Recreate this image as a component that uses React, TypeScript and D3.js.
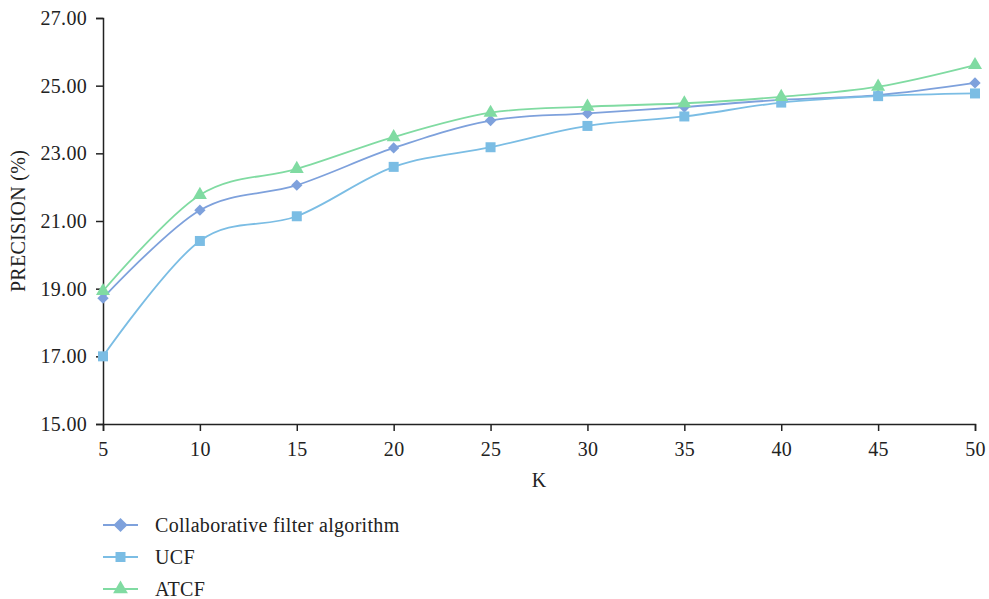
import React, { useEffect, useRef } from "react";
import * as d3 from "d3";

// chart data
const kValues = [5, 10, 15, 20, 25, 30, 35, 40, 45, 50];
const collabValues = [18.72, 21.32, 22.06, 23.16, 23.97, 24.18, 24.37, 24.58, 24.72, 25.08];
const ucfValues = [17.0, 20.41, 21.14, 22.6, 23.18, 23.81, 24.09, 24.5, 24.69, 24.77];
const atcfValues = [18.93, 21.77, 22.54, 23.48, 24.2, 24.38, 24.48, 24.67, 24.97, 25.61];
const seriesNames = ["Collaborative filter algorithm", "UCF", "ATCF"];
const yTicks = [15, 17, 19, 21, 23, 25, 27];

const colors = ["#7ea1dc", "#7bbde4", "#80dba2"];
const shapes = [d3.symbolSquare, d3.symbolSquare, d3.symbolTriangle];
const rotations = [45, 0, 0];
const FONT = '"Liberation Serif", "DejaVu Serif", serif';

const App = () => {
  const ref = useRef<SVGSVGElement>(null);

  useEffect(() => {
    const svg = d3.select(ref.current);
    svg.selectAll("*").remove();

    const left = 103, right = 975, top = 18, bottom = 424;
    const x = d3.scaleLinear().domain([5, 50]).range([left, right]);
    const y = d3.scaleLinear().domain([15, 27]).range([bottom, top]);

    const styleText = (sel: any) =>
      sel.attr("font-family", FONT).attr("font-size", 20).attr("fill", "#222").attr("letter-spacing", 0.3);

    // y axis
    const yAxis = svg.append("g")
      .attr("transform", `translate(${left},0)`)
      .call(d3.axisLeft(y).tickValues(yTicks).tickSize(7).tickPadding(9).tickFormat(d3.format(".2f")));
    yAxis.select(".domain").attr("stroke", "#222").attr("stroke-width", 1.5);
    yAxis.selectAll(".tick line").attr("stroke", "#222").attr("stroke-width", 1.5);
    styleText(yAxis.selectAll("text"));

    // x axis
    const xAxis = svg.append("g")
      .attr("transform", `translate(0,${bottom})`)
      .call(d3.axisBottom(x).tickValues(kValues).tickSize(7).tickPadding(11).tickFormat(d3.format("d")));
    xAxis.select(".domain").attr("stroke", "#222").attr("stroke-width", 1.5);
    xAxis.selectAll(".tick line").attr("stroke", "#222").attr("stroke-width", 1.5);
    styleText(xAxis.selectAll("text"));

    // axis titles
    styleText(svg.append("text")
      .attr("transform", `translate(25,${(top + bottom) / 2}) rotate(-90)`)
      .attr("text-anchor", "middle")
      .text("PRECISION (%)"));
    styleText(svg.append("text")
      .attr("x", 539).attr("y", 487)
      .attr("text-anchor", "middle")
      .text("K"));

    const allSeries = [collabValues, ucfValues, atcfValues];
    const line = d3.line<number>()
      .x((_, i) => x(kValues[i]))
      .y(d => y(d))
      .curve(d3.curveCardinal.tension(0));

    allSeries.forEach((vals, s) => {
      svg.append("path")
        .attr("d", line(vals))
        .attr("fill", "none")
        .attr("stroke", colors[s])
        .attr("stroke-width", 1.8);
      const sym = d3.symbol().type(shapes[s]).size(s === 0 ? 64 : s === 1 ? 100 : 85);
      svg.append("g").selectAll("path")
        .data(vals)
        .join("path")
        .attr("transform", (d, i) => `translate(${x(kValues[i])},${y(d)}) rotate(${rotations[s]})`)
        .attr("d", sym())
        .attr("fill", colors[s]);
    });

    // legend
    const legend = svg.append("g");
    seriesNames.forEach((name, s) => {
      const ly = 525 + s * 32;
      legend.append("line")
        .attr("x1", 103).attr("x2", 138).attr("y1", ly).attr("y2", ly)
        .attr("stroke", colors[s]).attr("stroke-width", 1.8);
      legend.append("path")
        .attr("transform", `translate(120.5,${ly}) rotate(${rotations[s]})`)
        .attr("d", d3.symbol().type(shapes[s]).size(s === 0 ? 100 : s === 1 ? 100 : 95)())
        .attr("fill", colors[s]);
      styleText(legend.append("text")
        .attr("x", 155).attr("y", ly + 7)
        .text(name));
    });
  }, []);

  return (
    <svg ref={ref} width={989} height={599}
      style={{ position: "absolute", left: 0, top: 0, background: "#fff" }} />
  );
};

export default App;
